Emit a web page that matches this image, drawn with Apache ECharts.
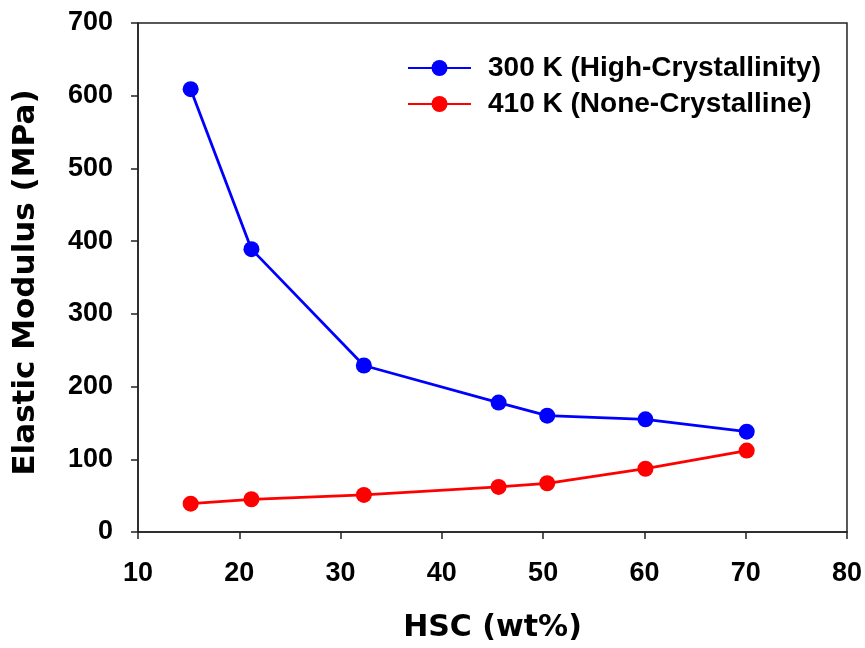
<!DOCTYPE html>
<html>
<head>
<meta charset="utf-8">
<script src="https://cdn.jsdelivr.net/npm/echarts@6/dist/echarts.min.js"></script>
<style>html,body{margin:0;padding:0;background:#fff}#c{width:865px;height:648px}</style>
</head>
<body>
<div id="c"></div>
<script>
const seriesNames = ['300 K (High-Crystallinity)', '410 K (None-Crystalline)'];
const hsc = [15.2, 21.2, 32.3, 45.6, 50.4, 60.1, 70.1];
const modulus300 = [609, 389, 229, 178, 160, 155, 138];
const modulus410 = [39, 45, 51, 62, 67, 87, 112];
const xTitle = 'HSC (wt%)';
const yTitle = 'Elastic Modulus (MPa)';
const colors = ['#0000ff', '#ff0000'];

const font = '"Liberation Sans", Arial, sans-serif';
const titleFont = '"DejaVu Sans", sans-serif';
const chart = echarts.init(document.getElementById('c'));
function mk(vals, i) {
  return {
    name: seriesNames[i], type: 'line',
    data: hsc.map((x, k) => [x, vals[k]]),
    symbol: 'circle', symbolSize: 16,
    lineStyle: { color: colors[i], width: 2.8 },
    itemStyle: { color: colors[i] },
    animation: false
  };
}
const legendText = { fontFamily: font, fontWeight: 'bold', fontSize: 28, color: '#000', padding: [0, 0, 0, 12] };
chart.setOption({
  backgroundColor: '#fff',
  animation: false,
  grid: { left: 138, right: 17, top: 23, bottom: 113, show: true, borderColor: '#222', borderWidth: 1.5 },
  legend: [
    { data: [seriesNames[0]], left: 402, top: 49, itemWidth: 63, itemHeight: 20,
      textStyle: legendText },
    { data: [seriesNames[1]], left: 402, top: 85, itemWidth: 63, itemHeight: 20,
      textStyle: legendText }
  ],
  xAxis: {
    type: 'value', min: 10, max: 80, interval: 10,
    name: xTitle, nameLocation: 'middle', nameGap: 81,
    nameTextStyle: { fontFamily: titleFont, fontWeight: 'bold', fontSize: 30, color: '#000' },
    axisLine: { lineStyle: { color: '#222', width: 1.5 } },
    axisTick: { length: 7, lineStyle: { color: '#222', width: 1.5 } },
    axisLabel: { fontFamily: font, fontWeight: 'bold', fontSize: 27, color: '#000', margin: 28 },
    splitLine: { show: false }
  },
  yAxis: {
    type: 'value', min: 0, max: 700, interval: 100,
    name: yTitle, nameLocation: 'middle', nameGap: 97,
    nameTextStyle: { fontFamily: titleFont, fontWeight: 'bold', fontSize: 31, color: '#000', padding: [0, 10, 0, 0] },
    axisLine: { show: true, lineStyle: { color: '#222', width: 1.5 } },
    axisTick: { show: true, length: 7, lineStyle: { color: '#222', width: 1.5 } },
    axisLabel: { fontFamily: font, fontWeight: 'bold', fontSize: 27, color: '#000', margin: 25 },
    splitLine: { show: false }
  },
  series: [mk(modulus300, 0), mk(modulus410, 1)]
});
</script>
</body>
</html>
